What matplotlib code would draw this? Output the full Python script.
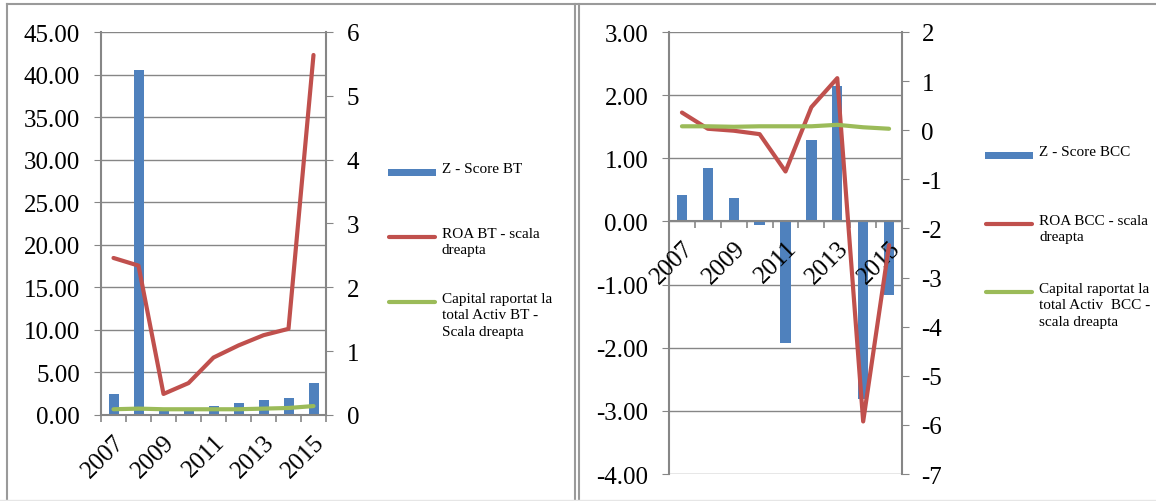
import numpy as np
import matplotlib
matplotlib.use('Agg')
import matplotlib.pyplot as plt
from matplotlib.lines import Line2D
from matplotlib.patches import Rectangle

plt.rcParams['font.family'] = ['Liberation Serif', 'DejaVu Serif']

years = [2007, 2008, 2009, 2010, 2011, 2012, 2013, 2014, 2015]

# BT (left panel)
z_bt = [2.47, 40.5, 0.5, 0.5, 1.06, 1.37, 1.72, 2.0, 3.72]
roa_bt = [2.46, 2.34, 0.33, 0.50, 0.90, 1.09, 1.25, 1.35, 5.64]
cap_bt = [0.09, 0.10, 0.09, 0.09, 0.09, 0.09, 0.10, 0.11, 0.14]

# BCC (right panel)
z_bcc = [0.42, 0.85, 0.37, -0.05, -1.92, 1.29, 2.14, -2.82, -1.16]
roa_bcc = [0.36, 0.03, -0.01, -0.08, -0.84, 0.47, 1.06, -5.93, -2.34]
cap_bcc = [0.08, 0.08, 0.07, 0.08, 0.08, 0.08, 0.11, 0.06, 0.03]

labels_bt = ['Z - Score BT', 'ROA BT - scala\ndreapta',
             'Capital raportat la\ntotal Activ BT -\nScala dreapta']
labels_bcc = ['Z - Score BCC', 'ROA BCC - scala\ndreapta',
              'Capital raportat la\ntotal Activ  BCC -\nscala dreapta']

blue = '#4F81BD'
red = '#C0504D'
green = '#9BBB59'
gray = '#868686'
fs = 18
W, H = 1156, 502

fig = plt.figure(figsize=(W / 100, H / 100), dpi=100)
x = np.arange(len(years))


def panel(rect, z, roa, cap, ylim_l, yticks_l, ylim_r, yticks_r, at_zero, rpad):
    ax = fig.add_axes(rect)
    if at_zero:
        ax.spines['bottom'].set_position(('data', 0))
    ax.bar(x, z, width=0.4, color=blue, zorder=2)
    ax.set_xlim(-0.5, len(years) - 0.5)
    ax.set_ylim(*ylim_l)
    ax.set_yticks(yticks_l)
    ax.set_yticklabels(['%.2f' % v for v in yticks_l])
    ax.grid(axis='y', color=gray, lw=1.0)
    ax.set_axisbelow(True)
    # year labels stay above the bars
    ax.xaxis.set_zorder(2.5)
    ax.tick_params(axis='y', direction='out', length=5, color=gray,
                   labelsize=fs, pad=10)
    # category labels every other year, boundary tick marks
    ax.set_xticks(x[::2])
    ax.set_xticklabels([str(y) for y in years[::2]], rotation=45,
                       ha='right', va='top', rotation_mode='anchor',
                       fontsize=fs)
    ax.set_xticks(np.arange(-0.5, len(years), 1.0), minor=True)
    ax.tick_params(axis='x', which='major', length=0, pad=11)
    ax.tick_params(axis='x', which='minor', direction='out', length=5,
                   color=gray, width=1.2)
    for s in ['top', 'right']:
        ax.spines[s].set_visible(False)
    for s in ['left', 'bottom']:
        ax.spines[s].set_color(gray)
        ax.spines[s].set_linewidth(1.5)

    ax2 = ax.twinx()
    ax2.plot(x, roa, color=red, lw=3, solid_capstyle='round', zorder=3)
    ax2.plot(x, cap, color=green, lw=3, solid_capstyle='round', zorder=3)
    ax2.set_ylim(*ylim_r)
    ax2.set_yticks(yticks_r)
    ax2.set_yticklabels([str(v) for v in yticks_r])
    ax2.tick_params(axis='y', direction='out', length=5, color=gray,
                    labelsize=fs, pad=rpad)
    for s in ['top', 'left', 'bottom']:
        ax2.spines[s].set_visible(False)
    ax2.spines['right'].set_color(gray)
    ax2.spines['right'].set_linewidth(1.5)
    return ax, ax2


def legend(labels, x0, ys):
    # swatch + text for each series, first text line level with the swatch
    sw = 48
    fig.add_artist(Rectangle(((x0) / W, 1 - (ys[0] + 3.5) / H), sw / W, 7 / H,
                             facecolor=blue, edgecolor='none',
                             transform=fig.transFigure))
    for col, y in zip([red, green], ys[1:]):
        fig.add_artist(Line2D([(x0 + 1) / W, (x0 + sw - 1) / W],
                              [1 - y / H, 1 - y / H], color=col, lw=3,
                              solid_capstyle='round',
                              transform=fig.transFigure))
    for lab, y in zip(labels, ys):
        fig.text((x0 + sw + 6) / W, 1 - (y - 10) / H, lab, fontsize=11,
                 va='top', ha='left', linespacing=1.33)


panel([101 / W, 86 / H, 225 / W, 383 / H],
      z_bt, roa_bt, cap_bt, (0, 45), np.arange(0, 46, 5),
      (0, 6), list(range(0, 7)), False, 10)
legend(labels_bt, 388, [173, 238, 303])

panel([669 / W, 27 / H, 233 / W, 442 / H],
      z_bcc, roa_bcc, cap_bcc, (-4, 3), np.arange(-4, 4, 1),
      (-7, 2), list(range(-7, 3)), True, 9)
legend(labels_bcc, 985, [156, 225, 293])

# panel frames
frame = dict(color='#9a9a9a', lw=1.5, transform=fig.transFigure)
fig.add_artist(Line2D([7 / W, 1], [1 - 5 / H, 1 - 5 / H], **frame))
fig.add_artist(Line2D([7 / W, 7 / W], [0, 1 - 5 / H], **frame))
fig.add_artist(Line2D([575 / W, 575 / W], [0, 1 - 5 / H], **frame))
fig.add_artist(Line2D([579 / W, 579 / W], [0, 1 - 5 / H], **frame))
fig.add_artist(Line2D([0, 1], [1.5 / H, 1.5 / H], color='#e6e6e6', lw=1,
                      transform=fig.transFigure))

plt.savefig('out.png', dpi=100)
